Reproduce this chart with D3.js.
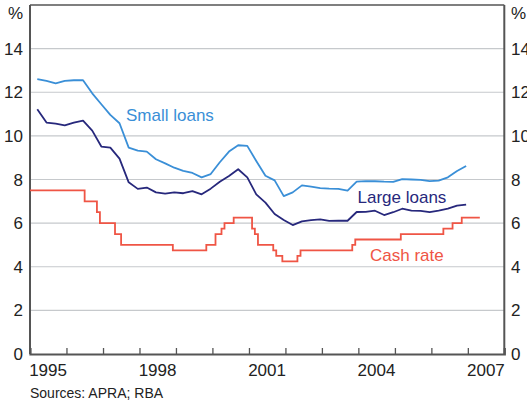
<!DOCTYPE html>
<html><head><meta charset="utf-8">
<script src="https://cdn.jsdelivr.net/npm/d3@7"></script>
<style>body{margin:0;background:#fff}svg{display:block}text{font-family:"Liberation Sans",Arial,sans-serif}</style>
</head><body><svg id="c" width="527" height="405"></svg>
<script>
const quarters = ["1995-03","1995-06","1995-09","1995-12","1996-03","1996-06","1996-09","1996-12",
"1997-03","1997-06","1997-09","1997-12","1998-03","1998-06","1998-09","1998-12",
"1999-03","1999-06","1999-09","1999-12","2000-03","2000-06","2000-09","2000-12",
"2001-03","2001-06","2001-09","2001-12","2002-03","2002-06","2002-09","2002-12",
"2003-03","2003-06","2003-09","2003-12","2004-03","2004-06","2004-09","2004-12",
"2005-03","2005-06","2005-09","2005-12","2006-03","2006-06","2006-09","2006-12"];
const smallLoans = [12.6,12.52,12.41,12.52,12.55,12.55,11.95,11.45,10.96,10.58,9.46,9.32,9.28,8.93,8.74,8.54,
8.40,8.30,8.10,8.25,8.79,9.28,9.57,9.54,8.85,8.17,7.96,7.24,7.41,7.73,7.67,7.60,
7.58,7.57,7.49,7.90,7.93,7.92,7.90,7.89,8.02,8.00,7.98,7.93,7.95,8.10,8.39,8.62];
const largeLoans = [11.22,10.61,10.56,10.48,10.61,10.70,10.24,9.51,9.46,8.96,7.87,7.57,7.63,7.41,7.35,7.41,
7.37,7.47,7.32,7.58,7.90,8.16,8.47,8.10,7.32,6.94,6.42,6.14,5.91,6.08,6.14,6.17,
6.10,6.11,6.11,6.51,6.52,6.57,6.37,6.50,6.66,6.57,6.56,6.50,6.57,6.66,6.80,6.85];
const cashDates = ["1995-01","1996-07","1996-11","1996-12","1997-05","1997-07","1998-12","1999-11","2000-02",
"2000-04","2000-05","2000-08","2001-02","2001-03","2001-04","2001-09","2001-10","2001-12","2002-05","2002-06",
"2003-11","2003-12","2005-03","2006-05","2006-08","2006-11","2007-05"];
const cashRate = [7.5,7.0,6.5,6.0,5.5,5.0,4.75,5.0,5.5,5.75,6.0,6.25,5.75,5.5,5.0,4.75,4.5,4.25,4.5,4.75,
5.0,5.25,5.5,5.75,6.0,6.25,6.25];
const yTicks = [0,2,4,6,8,10,12,14];
const yearLabels = [1995,1998,2001,2004,2007];
const seriesLabels = ["Small loans","Large loans","Cash rate"];
const sourceText = "Sources: APRA; RBA";

const svg = d3.select("#c");
const L = 30, R = 504.3, T = 5, B = 354;
const x = d3.scaleTime().domain([new Date(1995,0,1), new Date(2008,0,1)]).range([L, R]);
const y = d3.scaleLinear().domain([0,16]).range([B, T]);
const qDate = s => { const [yy,mm] = s.split("-").map(Number); return new Date(yy, mm-1, 15); };
const mDate = s => { const [yy,mm] = s.split("-").map(Number); return new Date(yy, mm-1, 1); };

// gridlines
svg.append("g").selectAll("line").data(yTicks.filter(d=>d>0)).join("line")
  .attr("x1", L).attr("x2", R).attr("y1", d=>y(d)).attr("y2", d=>y(d))
  .attr("stroke", "#c6c9cc").attr("stroke-width", 1.2);

// frame
svg.append("line").attr("x1",L).attr("x2",R).attr("y1",y(16)).attr("y2",y(16)).attr("stroke","#555").attr("stroke-width",1.5);
svg.append("line").attr("x1",L).attr("x2",L).attr("y1",y(16)).attr("y2",B).attr("stroke","#555").attr("stroke-width",2);
svg.append("line").attr("x1",R).attr("x2",R).attr("y1",y(16)).attr("y2",B).attr("stroke","#555").attr("stroke-width",2);

// bottom axis with inward ticks
const xAxis = d3.axisBottom(x).ticks(d3.timeYear.every(1)).tickSize(-6).tickFormat("");
const gx = svg.append("g").attr("transform", `translate(0,${B})`).call(xAxis);
gx.select(".domain").attr("stroke","#555").attr("stroke-width",2.2);
gx.selectAll(".tick line").attr("stroke","#555").attr("stroke-width",1.3);
gx.selectAll(".tick").filter(d => d.getFullYear()===1995 || d.getFullYear()===2008).remove();

svg.append("g").selectAll("text").data(yearLabels).join("text")
  .attr("x", d => x(new Date(d,6,1))).attr("y", 376)
  .attr("text-anchor","middle").attr("font-size",17).attr("fill","#222").text(d=>d);

// y labels
const yl = svg.append("g");
yl.selectAll("text.l").data(yTicks).join("text").attr("class","l")
  .attr("x", 23).attr("y", d=>y(d)).attr("dy","0.36em").attr("text-anchor","end")
  .attr("font-size",17).attr("fill","#222").text(d=>d);
yl.selectAll("text.r").data(yTicks).join("text").attr("class","r")
  .attr("x", 511).attr("y", d=>y(d)).attr("dy","0.36em").attr("text-anchor","start")
  .attr("font-size",17).attr("fill","#222").text(d=>d);
yl.append("text").attr("x",23).attr("y",19).attr("text-anchor","end").attr("font-size",17).attr("fill","#222").text("%");
yl.append("text").attr("x",511).attr("y",19).attr("text-anchor","start").attr("font-size",17).attr("fill","#222").text("%");

// lines
const line = d3.line().x(d=>x(d[0])).y(d=>y(d[1]));
const stepLine = d3.line().x(d=>x(d[0])).y(d=>y(d[1])).curve(d3.curveStepAfter);
const cashData = cashDates.map((d,i)=>[mDate(d), cashRate[i]]);
svg.append("path").attr("d", stepLine(cashData)).attr("fill","none").attr("stroke","#ef5545").attr("stroke-width",1.8);
svg.append("path").attr("d", line(quarters.map((d,i)=>[qDate(d), largeLoans[i]]))).attr("fill","none").attr("stroke","#27287c").attr("stroke-width",1.8).attr("stroke-linejoin","round");
svg.append("path").attr("d", line(quarters.map((d,i)=>[qDate(d), smallLoans[i]]))).attr("fill","none").attr("stroke","#3a8fd7").attr("stroke-width",1.8).attr("stroke-linejoin","round");

// series labels
svg.append("text").attr("x",126).attr("y",121).attr("font-size",17).attr("fill","#3a8fd7").text(seriesLabels[0]);
svg.append("text").attr("x",357.5).attr("y",202.7).attr("font-size",17).attr("fill","#27287c").text(seriesLabels[1]);
svg.append("text").attr("x",370).attr("y",261).attr("font-size",17).attr("fill","#ef5545").text(seriesLabels[2]);

// source
svg.append("text").attr("x",30).attr("y",398).attr("font-size",14).attr("fill","#222").text(sourceText);
</script></body></html>
